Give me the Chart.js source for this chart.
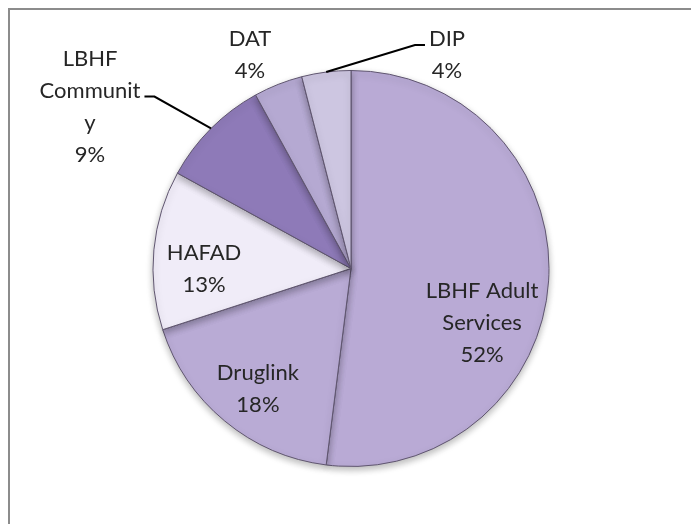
<!DOCTYPE html>
<html>
<head>
<meta charset="utf-8">
<script src="https://cdn.jsdelivr.net/npm/chart.js@4"></script>
<style>
  body { margin: 0; background: #fff; }
  #wrap { position: relative; width: 691px; height: 524px; }
</style>
</head>
<body>
<div id="wrap"><canvas id="pie-chart" width="691" height="524"></canvas></div>
<script>
const categories = ["LBHF Adult Services", "Druglink", "HAFAD", "LBHF Community", "DAT", "DIP"];
const shares = [52, 18, 13, 9, 4, 4];
// how excel wrapped the category names
const labelLines = [
  ["LBHF Adult", "Services"],
  ["Druglink"],
  ["HAFAD"],
  ["LBHF", "Communit", "y"],
  ["DAT"],
  ["DIP"],
];
const sliceColors = ["#b9aad5", "#b9abd5", "#f0ecf8", "#8e7ab8", "#b5a9d2", "#cdc6e1"];

// label placement, in pie radii from the centre
const labelPlace = [
  { dx: 0.662, dy: 0.273 },
  { dx: -0.47, dy: 0.609 },
  { dx: -0.742, dy: 0.0 },
  { dx: -1.318, dy: -0.818, leader: { line: 1, side: "right" } },
  { dx: -0.51, dy: -1.078 },
  { dx: 0.485, dy: -1.078, leader: { line: 0, side: "left" } },
];
const lineHeight = 32;

const framePlugin = {
  id: "frame",
  beforeDraw(chart) {
    const ctx = chart.ctx;
    ctx.save();
    ctx.strokeStyle = "#8c8c8c";
    ctx.lineWidth = 2;
    ctx.beginPath();
    ctx.moveTo(9, 524);
    ctx.lineTo(9, 9);
    ctx.lineTo(691, 9);
    ctx.stroke();
    ctx.restore();
  },
};

const shadowPlugin = {
  id: "pieShadow",
  beforeDatasetsDraw(chart) {
    const ctx = chart.ctx;
    ctx.save();
    ctx.shadowColor = "rgba(0,0,0,0.28)";
    ctx.shadowBlur = 7;
    ctx.shadowOffsetY = 3;
  },
  afterDatasetsDraw(chart) {
    chart.ctx.restore();
  },
};

const labelPlugin = {
  id: "sliceLabels",
  afterDatasetsDraw(chart) {
    const ctx = chart.ctx;
    const meta = chart.getDatasetMeta(0);
    ctx.save();
    ctx.font = "22px Lato";
    ctx.fillStyle = "#262626";
    ctx.textAlign = "center";
    ctx.textBaseline = "middle";
    meta.data.forEach((arc, i) => {
      const r = arc.outerRadius;
      const cx = arc.x + labelPlace[i].dx * r;
      const cy = arc.y + labelPlace[i].dy * r;
      const lines = labelLines[i].concat([shares[i] + "%"]);
      const top = cy - ((lines.length - 1) * lineHeight) / 2;
      lines.forEach((t, j) => ctx.fillText(t, cx, top + j * lineHeight));

      const ld = labelPlace[i].leader;
      if (ld) {
        const mid = (arc.startAngle + arc.endAngle) / 2;
        const ax = arc.x + Math.cos(mid) * r;
        const ay = arc.y + Math.sin(mid) * r;
        const w = ctx.measureText(lines[ld.line]).width;
        const ly = top + ld.line * lineHeight + 6;
        const ex = ld.side === "left" ? cx - w / 2 - 4 : cx + w / 2 + 4;
        const bx = ld.side === "left" ? ex - 10 : ex + 10;
        ctx.strokeStyle = "#000";
        ctx.lineWidth = 2;
        ctx.beginPath();
        ctx.moveTo(ax, ay);
        ctx.lineTo(bx, ly);
        ctx.lineTo(ex, ly);
        ctx.stroke();
      }
    });
    ctx.restore();
  },
};

const ctx = document.getElementById("pie-chart");
new Chart(ctx, {
  type: "pie",
  data: {
    labels: categories,
    datasets: [
      {
        data: shares,
        backgroundColor: sliceColors,
        borderColor: "#5f556f",
        borderWidth: 1,
        hoverOffset: 0,
      },
    ],
  },
  options: {
    responsive: false,
    animation: false,
    events: [],
    layout: { padding: { top: 70, bottom: 57, left: 11, right: 0 } },
    plugins: {
      legend: { display: false },
      tooltip: { enabled: false },
    },
  },
  plugins: [framePlugin, shadowPlugin, labelPlugin],
});
</script>
</body>
</html>
